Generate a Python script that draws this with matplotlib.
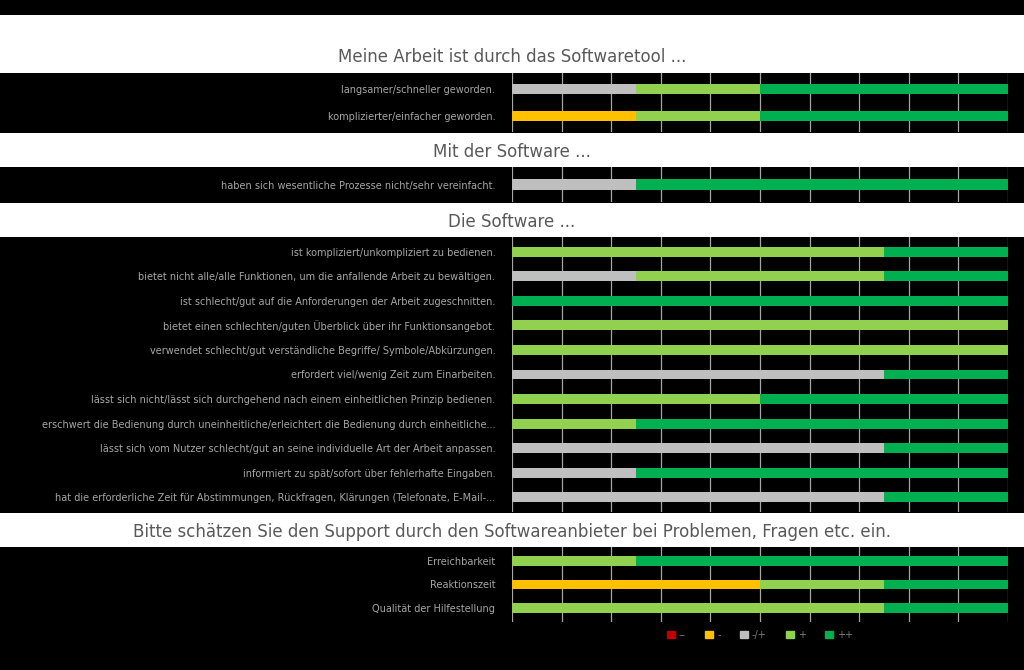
import matplotlib.pyplot as plt
import numpy as np

levels = ["--", "-", "-/+", "+", "++"]
colors = ["#c00000", "#ffc000", "#bfbfbf", "#92d050", "#00b050"]

group_titles = [
    "Meine Arbeit ist durch das Softwaretool ...",
    "Mit der Software ...",
    "Die Software ...",
    "Bitte schätzen Sie den Support durch den Softwareanbieter bei Problemen, Fragen etc. ein.",
]

labels_g1 = ["langsamer/schneller geworden.", "komplizierter/einfacher geworden."]
counts_g1 = [[0, 0, 1, 1, 2], [0, 1, 0, 1, 2]]

labels_g2 = ["haben sich wesentliche Prozesse nicht/sehr vereinfacht."]
counts_g2 = [[0, 0, 1, 0, 3]]

labels_g3 = [
    "ist kompliziert/unkompliziert zu bedienen.",
    "bietet nicht alle/alle Funktionen, um die anfallende Arbeit zu bewältigen.",
    "ist schlecht/gut auf die Anforderungen der Arbeit zugeschnitten.",
    "bietet einen schlechten/guten Überblick über ihr Funktionsangebot.",
    "verwendet schlecht/gut verständliche Begriffe/ Symbole/Abkürzungen.",
    "erfordert viel/wenig Zeit zum Einarbeiten.",
    "lässt sich nicht/lässt sich durchgehend nach einem einheitlichen Prinzip bedienen.",
    "erschwert die Bedienung durch uneinheitliche/erleichtert die Bedienung durch einheitliche...",
    "lässt sich vom Nutzer schlecht/gut an seine individuelle Art der Arbeit anpassen.",
    "informiert zu spät/sofort über fehlerhafte Eingaben.",
    "hat die erforderliche Zeit für Abstimmungen, Rückfragen, Klärungen (Telefonate, E-Mail-...",
]
counts_g3 = [
    [0, 0, 0, 3, 1], [0, 0, 1, 2, 1], [0, 0, 0, 0, 4], [0, 0, 0, 4, 0],
    [0, 0, 0, 4, 0], [0, 0, 3, 0, 1], [0, 0, 0, 2, 2], [0, 0, 0, 1, 3],
    [0, 0, 3, 0, 1], [0, 0, 1, 0, 3], [0, 0, 3, 0, 1],
]

labels_g4 = ["Erreichbarkeit", "Reaktionszeit", "Qualität der Hilfestellung"]
counts_g4 = [[0, 0, 0, 1, 3], [0, 2, 0, 1, 1], [0, 0, 0, 3, 1]]

W, H = 1024, 670
fig = plt.figure(figsize=(W / 100, H / 100), dpi=100, facecolor="black")

# (title band top, band bottom, group bottom) in pixels
layout = [(15, 73, 132), (133, 167, 202), (203, 237, 512), (513, 547, 622)]
groups = [(labels_g1, counts_g1), (labels_g2, counts_g2),
          (labels_g3, counts_g3), (labels_g4, counts_g4)]
x0, x1 = 512, 1008

for (top, btop, bot), title, (labels, counts) in zip(layout, group_titles, groups):
    band = fig.add_axes([0, 1 - btop / H, 1, (btop - top) / H])
    band.set_facecolor("white")
    band.set_xticks([]); band.set_yticks([])
    for s in band.spines.values():
        s.set_visible(False)
    band.text(0.5, 0.28 if top == 15 else 0.45, title, ha="center", va="center",
              fontsize=12, color="#595959", transform=band.transAxes)

    ax = fig.add_axes([x0 / W, 1 - bot / H, (x1 - x0) / W, (bot - btop) / H])
    ax.set_facecolor("black")
    n = len(labels)
    arr = np.array(counts, dtype=float) / 4
    y = np.arange(n)
    left = np.zeros(n)
    for k in range(len(levels)):
        ax.barh(y, arr[:, k], left=left, height=0.4, color=colors[k], zorder=2)
        left += arr[:, k]
    ax.set_xlim(0, 1)
    ax.set_ylim(n - 0.4, -0.6)
    for gx in np.linspace(0, 1, 11):
        ax.axvline(gx, color="#a6a6a6", lw=0.9, zorder=1)
    ax.set_yticks(y)
    ax.set_yticklabels(labels, fontsize=7, color="#a6a6a6")
    ax.tick_params(axis="y", length=0, pad=12)
    ax.set_xticks([])
    for s in ax.spines.values():
        s.set_visible(False)

# legend
legend_ax = fig.add_axes([x0 / W, 1 - 645 / H, (x1 - x0) / W, 20 / H])
legend_ax.axis("off")
handles = [plt.Rectangle((0, 0), 1, 1, color=c) for c in colors]
legend_ax.legend(handles, levels, loc="center", ncol=5, frameon=False,
                 fontsize=7, labelcolor="#7f7f7f", handlelength=0.8,
                 handleheight=0.8, columnspacing=2.0, handletextpad=0.4)

fig.savefig("out.png", dpi=100, facecolor="black")
